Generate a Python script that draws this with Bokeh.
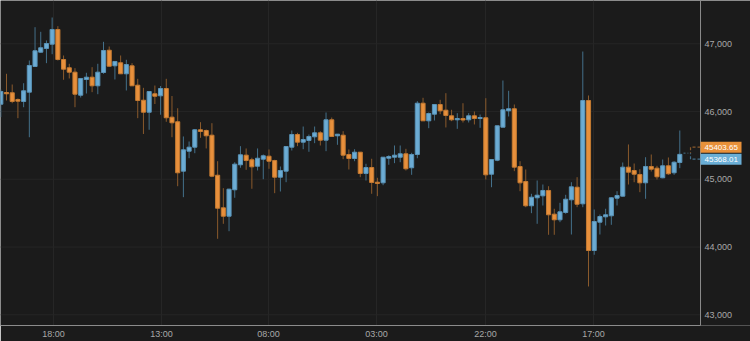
from bokeh.plotting import figure
from bokeh.models import Range1d, FixedTicker, ColumnDataSource
from bokeh.core.properties import value
from bokeh.embed import file_html
from bokeh.resources import INLINE

opens = [46108, 46281, 46277, 46178, 46148, 46286, 46665, 46876, 46931, 46994,
         47211, 46768, 46646, 46581, 46241, 46473, 46507, 46380, 46576, 46905,
         46675, 46720, 46557, 46675, 46389, 46167, 45990, 46262, 46232, 46340,
         45917, 45849, 45120, 45415, 45474, 45731, 45720, 45651, 45060, 44579,
         44455, 44845, 45214, 45356, 45288, 45193, 45297, 45341, 45277, 45031,
         45120, 45474, 45661, 45548, 45573, 45627, 45686, 45577, 45878, 45642,
         45651, 45366, 45307, 45400, 45086, 45174, 44957, 44948, 45311, 45326,
         45326, 45376, 45170, 45366, 46123, 45863, 45961, 46104, 46020, 45937,
         45878, 45897, 45878, 45937, 45897, 45908, 45075, 45282, 45769, 46011,
         46041, 45189, 44967, 44609, 44727, 44756, 44835, 44485, 44402, 44510,
         44697, 44883, 44638, 46163, 43949, 44367, 44446, 44461, 44721, 44751,
         45179, 45130, 45071, 44948, 45189, 45164, 45022, 45199, 45096, 45248]
highs = [46325, 46557, 46399, 46193, 46418, 46753, 47245, 47177, 47049, 47388,
         47260, 46827, 46705, 46640, 46488, 46572, 46655, 46705, 47029, 46960,
         46739, 46827, 46764, 46714, 46483, 46350, 46296, 46384, 46377, 46483,
         46229, 46049, 45632, 45558, 45739, 45843, 45735, 45828, 45267, 44869,
         44860, 45252, 45489, 45455, 45318, 45455, 45366, 45440, 45288, 45189,
         45484, 45720, 45686, 45779, 45661, 45779, 45710, 45986, 45912, 45666,
         45710, 45440, 45444, 45400, 45229, 45303, 45022, 45326, 45356, 45499,
         45499, 45450, 45391, 46153, 46203, 45986, 46104, 46173, 46271, 46026,
         45976, 46123, 45976, 46001, 45956, 46197, 45292, 45790, 46458, 46306,
         46104, 45267, 45145, 44786, 44982, 44923, 44898, 44565, 44653, 44771,
         44957, 45031, 46886, 46237, 44554, 44480, 44565, 44736, 44824, 45248,
         45514, 45233, 45149, 45326, 45366, 45199, 45292, 45322, 45267, 45720]
lows = [45917, 46163, 46123, 45902, 46064, 45621, 46660, 46870, 46714, 46846,
        46753, 46469, 46488, 46064, 46207, 46266, 46286, 46256, 46557, 46665,
        46473, 46557, 46311, 46380, 45902, 45669, 45731, 46111, 45953, 45849,
        45621, 44898, 44736, 45311, 45385, 45612, 45455, 45031, 44122, 44343,
        44234, 44727, 45170, 45140, 44860, 45130, 45001, 45155, 44795, 44820,
        44957, 45425, 45489, 45444, 45406, 45533, 45499, 45415, 45632, 45509,
        45297, 45145, 45267, 45031, 44982, 44786, 44751, 44913, 45214, 45238,
        45252, 45130, 45066, 45311, 45863, 45754, 45868, 45961, 45765, 45858,
        45745, 45838, 45838, 45809, 45760, 44997, 44883, 45267, 45769, 45927,
        45120, 44824, 44588, 44500, 44343, 44613, 44181, 44181, 44367, 44491,
        44185, 44588, 44588, 43418, 43886, 44185, 44318, 44328, 44613, 44745,
        44923, 44957, 44810, 44712, 45115, 44997, 45015, 45066, 45066, 45164]
closes = [46296, 46262, 46148, 46153, 46306, 46680, 46897, 46941, 47004, 47211,
          46768, 46625, 46581, 46256, 46488, 46507, 46380, 46581, 46901, 46669,
          46739, 46557, 46694, 46380, 46163, 45990, 46296, 46226, 46340, 45908,
          45834, 45096, 45435, 45474, 45731, 45705, 45642, 45046, 44573, 44455,
          44854, 45223, 45362, 45277, 45184, 45311, 45347, 45267, 45031, 45130,
          45484, 45661, 45548, 45587, 45632, 45686, 45577, 45878, 45632, 45666,
          45356, 45307, 45400, 45086, 45174, 44953, 44938, 45326, 45336, 45356,
          45376, 45155, 45366, 46123, 45863, 45971, 46104, 46011, 45942, 45878,
          45897, 45875, 45937, 45897, 45912, 45066, 45292, 45790, 46026, 46041,
          45179, 44948, 44609, 44736, 44765, 44835, 44476, 44402, 44520, 44706,
          44889, 44632, 46163, 43949, 44377, 44451, 44476, 44727, 44761, 45179,
          45105, 45075, 44948, 45189, 45149, 45037, 45199, 45081, 45252, 45368.01]

tick_positions = [9.24, 28.16, 46.92, 65.84, 84.95, 103.87]
tick_labels = ["18:00", "13:00", "08:00", "03:00", "22:00", "17:00"]
y_ticks = [43000, 44000, 45000, 46000, 47000]
price_labels = [45403.65, 45368.01]
price_label_colors = ["#e8913a", "#6aaed6"]

BG = "#1b1b1b"
GRID = "#262626"
AXIS = "#8c8c8c"
TICK_TXT = "#a8a8a8"
UP_BODY, UP_LINE, UP_WICK = "#6cacd4", "#5a94b8", "#44708a"
DN_BODY, DN_LINE, DN_WICK = "#e8903c", "#c47a32", "#8a5a2c"

W, H = 750, 341
FRAME_H = 325
x_start, x_axis, x_end = -0.053, 122.63, 131.39   # x_axis = position of price axis
y0, y1 = 42842, 47639
xpp = (x_end - x_start) / W      # data per pixel (x)
ypp = (y1 - y0) / FRAME_H        # price per pixel (y)

n = len(opens)
xs = list(range(n))
inc = [c >= o for o, c in zip(opens, closes)]
src = ColumnDataSource(dict(
    x=xs,
    top=[max(o, c) for o, c in zip(opens, closes)],
    bottom=[min(o, c) for o, c in zip(opens, closes)],
    high=highs, low=lows,
    body=[UP_BODY if u else DN_BODY for u in inc],
    edge=[UP_LINE if u else DN_LINE for u in inc],
    wick=[UP_WICK if u else DN_WICK for u in inc],
))

p = figure(width=W, height=H, output_backend="svg", toolbar_location=None,
           x_range=Range1d(x_start, x_end), y_range=Range1d(y0, y1),
           min_border_left=0, min_border_top=0, min_border_right=0, min_border_bottom=0,
           background_fill_color=BG, border_fill_color=BG, outline_line_color=None,
           y_axis_location=None)
p.ygrid.visible = False

# horizontal grid lines (stop at the price axis)
p.segment(x0=[x_start] * len(y_ticks), x1=[x_axis] * len(y_ticks), y0=y_ticks, y1=y_ticks,
          line_color=GRID, line_width=1)

# candles
p.segment(x0="x", x1="x", y0="low", y1="high", line_color="wick", line_width=1, source=src)
p.vbar(x="x", width=0.72, top="top", bottom="bottom", fill_color="body",
       line_color="edge", line_width=1, source=src)

# price axis on the right
p.segment(x0=[x_axis], x1=[x_axis], y0=[y0], y1=[y1], line_color=AXIS, line_width=1)
p.text(x=[x_axis] * len(y_ticks), y=y_ticks, text=[f"{t:,}" for t in y_ticks],
       x_offset=4, text_baseline="middle", text_align="left", text_color=TICK_TXT,
       text_font=value("Liberation Sans"), text_font_size="9px")

# time axis
xax = p.xaxis[0]
xax.bounds = (x_start, x_axis)
xax.ticker = FixedTicker(ticks=tick_positions)
xax.major_label_overrides = {t: l for t, l in zip(tick_positions, tick_labels)}
xax.axis_line_color = AXIS
xax.major_tick_line_color = None
xax.minor_tick_line_color = None
xax.major_tick_out = 0
xax.major_tick_in = 0
xax.major_label_text_color = TICK_TXT
xax.major_label_text_font = "Liberation Sans"
xax.major_label_text_font_size = "9px"
xax.major_label_standoff = 3
p.min_border_bottom = 16
p.xgrid.ticker = FixedTicker(ticks=tick_positions)
p.xgrid.grid_line_color = GRID
p.xgrid.grid_line_width = 1

# current price markers
mid = sum(price_labels) / 2
label_y = [mid + 6 * ypp, mid - 6 * ypp]
last = n - 1
xb = x_axis - 10 * xpp
p.line([last + 0.65, last + 1.5], [mid, mid], line_color=UP_WICK, line_width=1, line_dash="2 2")
p.line([x_axis, xb, xb], [label_y[0], label_y[0], mid], line_color=DN_WICK, line_width=1.2, line_dash="3 2")
p.line([x_axis, xb, xb], [label_y[1], label_y[1], mid], line_color=UP_WICK, line_width=1.2, line_dash="3 2")

p.rect(x=[x_axis + 20.5 * xpp] * 2, y=label_y, width=41, height=11,
       width_units="screen", height_units="screen", fill_color=price_label_colors, line_color=None)
p.text(x=[x_axis] * 2, y=label_y, text=[f"{v:.2f}" for v in price_labels], x_offset=4,
       text_baseline="middle", text_align="left", text_color="#ffffff",
       text_font=value("Liberation Sans"), text_font_size="8px")

open("out.html", "w").write(file_html(p, INLINE))
